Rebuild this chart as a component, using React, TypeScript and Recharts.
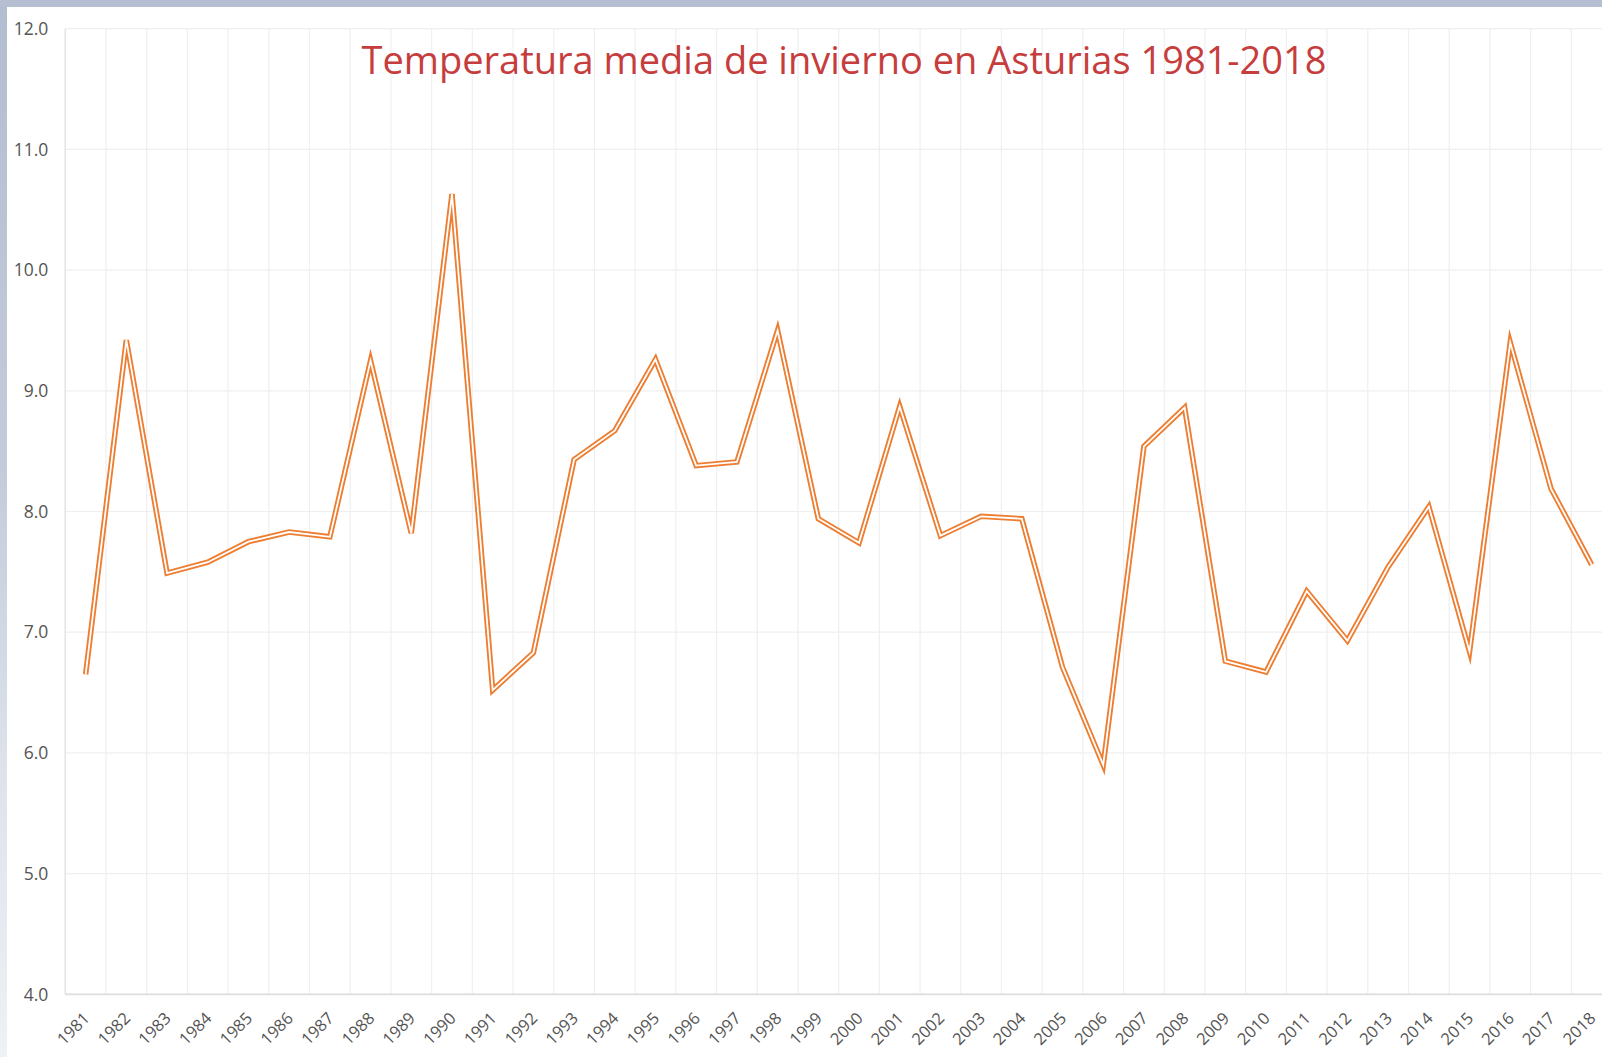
import React from 'react';
import { LineChart, Line, XAxis, YAxis, CartesianGrid } from 'recharts';

const TITLE = 'Temperatura media de invierno en Asturias 1981-2018';

const years = [
  '1981', '1982', '1983', '1984', '1985', '1986', '1987', '1988', '1989', '1990',
  '1991', '1992', '1993', '1994', '1995', '1996', '1997', '1998', '1999', '2000',
  '2001', '2002', '2003', '2004', '2005', '2006', '2007', '2008', '2009', '2010',
  '2011', '2012', '2013', '2014', '2015', '2016', '2017', '2018',
];

const temps = [
  6.65, 9.42, 7.49, 7.58, 7.75, 7.83, 7.79, 9.25, 7.82, 10.63,
  6.52, 6.83, 8.43, 8.67, 9.26, 8.38, 8.41, 9.50, 7.94, 7.74,
  8.87, 7.80, 7.96, 7.94, 6.71, 5.90, 8.54, 8.86, 6.76, 6.67,
  7.34, 6.93, 7.54, 8.04, 6.84, 9.40, 8.19, 7.56,
];

const yTicks = [4, 5, 6, 7, 8, 9, 10, 11, 12];

const data = years.map((year, i) => ({ year, temp: temps[i] }));

const FONT = '"Open Sans", "Noto Sans", sans-serif';
const LABEL = '#555555';
const ORANGE = '#ED7D31';

const XTick = (props: any) => {
  const { x, y, payload } = props;
  const px = x + 5;
  const py = y + 25;
  return (
    <text
      x={px}
      y={py}
      transform={`rotate(-45 ${px} ${py})`}
      textAnchor="end"
      fill={LABEL}
      fontSize={16.5}
      fontFamily={FONT}
    >
      {payload.value}
    </text>
  );
};

export default function App() {
  return (
    <div
      style={{
        position: 'absolute',
        left: 0,
        top: 0,
        width: 1602,
        height: 1057,
        overflow: 'hidden',
        background: 'linear-gradient(180deg, #b3bdd0 0%, #c4ccdb 45%, #dfe4ec 75%, #eef1f5 100%)',
      }}
    >
      <div
        style={{
          position: 'absolute',
          left: 0,
          top: 0,
          width: 1602,
          height: 7,
          background: '#b5bfd1',
        }}
      />
      <div
        style={{
          position: 'absolute',
          left: 7,
          top: 7,
          right: 0,
          bottom: 0,
          background: '#ffffff',
        }}
      />
      <div style={{ position: 'absolute', left: 0, top: 0 }}>
        <LineChart
          width={1612}
          height={1057}
          data={data}
          margin={{ top: 28.7, right: 0, bottom: 0, left: 0 }}
        >
          <CartesianGrid
            stroke="#efefef"
            strokeWidth={1.2}
            strokeDasharray=""
            verticalCoordinatesGenerator={({ offset }: any) =>
              years.map((_, i) => offset.left + (i * offset.width) / years.length).concat([offset.left + offset.width])
            }
          />
          <XAxis
            dataKey="year"
            scale="band"
            height={62.7}
            interval={0}
            tickLine={false}
            tickSize={0}
            tickMargin={0}
            axisLine={{ stroke: '#dedede', strokeWidth: 1.8 }}
            tick={<XTick />}
          />
          <YAxis
            width={65.3}
            domain={[4, 12]}
            ticks={yTicks}
            interval={0}
            tickLine={false}
            tickSize={0}
            tickMargin={17}
            axisLine={{ stroke: '#e4e4e4', strokeWidth: 1.5 }}
            tickFormatter={(v: number) => v.toFixed(1)}
            tick={{ fill: LABEL, fontSize: 17.5, fontFamily: FONT }}
          />
          <Line
            type="linear"
            dataKey="temp"
            stroke={ORANGE}
            strokeWidth={5.5}
            strokeLinejoin="miter"
            strokeMiterlimit={5}
            dot={false}
            activeDot={false}
            isAnimationActive={false}
          />
          <Line
            type="linear"
            dataKey="temp"
            stroke="#ffffff"
            strokeWidth={1.8}
            strokeLinejoin="miter"
            strokeMiterlimit={5}
            dot={false}
            activeDot={false}
            isAnimationActive={false}
          />
        </LineChart>
      </div>
      <svg
        width={1602}
        height={120}
        style={{ position: 'absolute', left: 0, top: 0, pointerEvents: 'none' }}
      >
        <text
          x={844}
          y={74}
          textAnchor="middle"
          fill="#c63d3d"
          fontSize={38}
          fontFamily={FONT}
        >
          {TITLE}
        </text>
      </svg>
    </div>
  );
}
